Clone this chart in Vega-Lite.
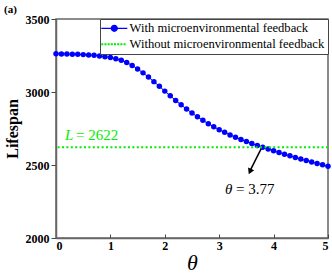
{
  "$schema": "https://vega.github.io/schema/vega-lite/v6.json",
  "autosize": "none",
  "width": 272,
  "height": 219,
  "padding": {"left": 56, "top": 19, "right": 4, "bottom": 40},
  "background": "white",
  "title": {"text": "(a)", "anchor": "start", "frame": "bounds", "font": "Times New Roman", "fontSize": 11, "fontWeight": "bold", "color": "black", "offset": -2},
  "config": {
    "view": {"stroke": "#666666", "strokeWidth": 1.5},
    "font": "Times New Roman",
    "axis": {"grid": false, "domainColor": "#666666", "domainWidth": 1.5, "tickColor": "#444444", "labelFont": "Times New Roman", "labelFontWeight": "bold", "labelFontSize": 12, "labelColor": "black", "titleColor": "black", "titleFont": "Times New Roman", "format": "d"},
    "legend": {"labelFont": "Times New Roman", "labelLimit": 300}
  },
  "data": {"values": [
      {"theta": 0.0, "L": 3262}, {"theta": 0.1, "L": 3261}, {"theta": 0.2, "L": 3260}, {"theta": 0.3, "L": 3259},
      {"theta": 0.4, "L": 3258}, {"theta": 0.5, "L": 3256}, {"theta": 0.6, "L": 3254}, {"theta": 0.7, "L": 3251},
      {"theta": 0.8, "L": 3247}, {"theta": 0.9, "L": 3242}, {"theta": 1.0, "L": 3236}, {"theta": 1.1, "L": 3228},
      {"theta": 1.2, "L": 3217}, {"theta": 1.3, "L": 3202}, {"theta": 1.4, "L": 3182}, {"theta": 1.5, "L": 3158},
      {"theta": 1.6, "L": 3131}, {"theta": 1.7, "L": 3102}, {"theta": 1.8, "L": 3071}, {"theta": 1.9, "L": 3039},
      {"theta": 2.0, "L": 3006}, {"theta": 2.1, "L": 2974}, {"theta": 2.2, "L": 2942}, {"theta": 2.3, "L": 2912},
      {"theta": 2.4, "L": 2883}, {"theta": 2.5, "L": 2856}, {"theta": 2.6, "L": 2830}, {"theta": 2.7, "L": 2806},
      {"theta": 2.8, "L": 2783}, {"theta": 2.9, "L": 2762}, {"theta": 3.0, "L": 2742}, {"theta": 3.1, "L": 2724},
      {"theta": 3.2, "L": 2706}, {"theta": 3.3, "L": 2690}, {"theta": 3.4, "L": 2675}, {"theta": 3.5, "L": 2661},
      {"theta": 3.6, "L": 2647}, {"theta": 3.7, "L": 2634}, {"theta": 3.8, "L": 2621}, {"theta": 3.9, "L": 2609},
      {"theta": 4.0, "L": 2597}, {"theta": 4.1, "L": 2585}, {"theta": 4.2, "L": 2574}, {"theta": 4.3, "L": 2563},
      {"theta": 4.4, "L": 2552}, {"theta": 4.5, "L": 2541}, {"theta": 4.6, "L": 2531}, {"theta": 4.7, "L": 2521},
      {"theta": 4.8, "L": 2511}, {"theta": 4.9, "L": 2501}, {"theta": 5.0, "L": 2491}
  ]},
  "layer": [
    {
      "mark": {"type": "line", "strokeWidth": 1, "clip": true},
      "encoding": {
        "x": {"field": "theta", "type": "quantitative", "scale": {"domain": [0, 5], "nice": false},
              "axis": {"values": [0, 1, 2, 3, 4, 5], "title": "θ", "titleFontSize": 22, "titleFontStyle": "italic", "titleFontWeight": "normal", "tickSize": -4, "labelPadding": 6, "titlePadding": 1}},
        "y": {"field": "L", "type": "quantitative", "scale": {"domain": [2000, 3500], "nice": false, "zero": false},
              "axis": {"values": [2000, 2500, 3000, 3500], "title": "Lifespan", "titleFontSize": 16, "titleFontWeight": "bold", "tickSize": 5, "labelPadding": 2, "titlePadding": 5}},
        "color": {"datum": "With microenvironmental feedback", "type": "nominal",
                  "scale": {"domain": ["With microenvironmental feedback", "Without microenvironmental feedback"], "range": ["#0000ff", "#00ee00"]},
                  "legend": {"title": null, "orient": "top-right", "offset": 0, "labelFont": "Times New Roman", "labelFontSize": 12.6, "labelColor": "black", "fillColor": "white", "strokeColor": "#444444", "padding": 3, "rowPadding": 3, "symbolSize": 144, "symbolOffset": 5, "labelOffset": 9, "labelLimit": 300,
                             "encode": {"symbols": {"update": {
                               "shape": {"signal": "datum.index === 0 ? 'M-2.17,0H2.17M-0.5,0a0.5,0.5 0 1,0 1,0a0.5,0.5 0 1,0 -1,0' : 'M-2.17,-0.17h0.34v0.34h-0.34zM-1.64,-0.17h0.34v0.34h-0.34zM-1.11,-0.17h0.34v0.34h-0.34zM-0.58,-0.17h0.34v0.34h-0.34zM-0.05,-0.17h0.34v0.34h-0.34zM0.48,-0.17h0.34v0.34h-0.34zM1.01,-0.17h0.34v0.34h-0.34zM1.54,-0.17h0.34v0.34h-0.34z'"},
                               "fill": {"signal": "datum.index === 0 ? '#0000ff' : '#00ee00'"},
                               "stroke": {"signal": "datum.index === 0 ? '#0000ff' : '#00ee00'"},
                               "strokeWidth": {"signal": "datum.index === 0 ? 1.2 : 0"},
                               "opacity": {"value": 1}
                             }}}}}
      }
    },
    {
      "mark": {"type": "point", "shape": "circle", "filled": true, "size": 30, "opacity": 1, "color": "#0000ff"},
      "encoding": {
        "x": {"field": "theta", "type": "quantitative"},
        "y": {"field": "L", "type": "quantitative"}
      }
    },
    {
      "data": {"values": [{}]},
      "mark": {"type": "rule", "strokeWidth": 2, "strokeDash": [2, 2.4]},
      "encoding": {
        "y": {"datum": 2622},
        "color": {"datum": "Without microenvironmental feedback", "type": "nominal"}
      }
    },
    {
      "data": {"values": [{}]},
      "mark": {"type": "rule", "color": "black", "strokeWidth": 1.5},
      "encoding": {
        "x": {"datum": 3.77}, "y": {"datum": 2610},
        "x2": {"datum": 3.58}, "y2": {"datum": 2470}
      }
    },
    {
      "data": {"values": [{}]},
      "mark": {"type": "point", "shape": "triangle-down", "filled": true, "color": "black", "size": 45, "angle": 24, "opacity": 1},
      "encoding": {"x": {"datum": 3.565}, "y": {"datum": 2455}}
    },
    {
      "data": {"values": [{}]},
      "mark": {"type": "text", "text": "θ", "font": "Times New Roman", "fontSize": 15, "fontStyle": "italic", "color": "black", "align": "left", "baseline": "middle", "dx": -24},
      "encoding": {"x": {"datum": 3.55}, "y": {"datum": 2336}}
    },
    {
      "data": {"values": [{}]},
      "mark": {"type": "text", "text": "= 3.77", "font": "Times New Roman", "fontSize": 15, "color": "black", "align": "left", "baseline": "middle", "dx": -13},
      "encoding": {"x": {"datum": 3.55}, "y": {"datum": 2336}}
    },
    {
      "data": {"values": [{}]},
      "mark": {"type": "text", "text": "L", "font": "Times New Roman", "fontSize": 15, "fontStyle": "italic", "color": "#00ee00", "align": "left", "baseline": "alphabetic", "dx": 9, "dy": -7},
      "encoding": {"x": {"datum": 0}, "y": {"datum": 2622}}
    },
    {
      "data": {"values": [{}]},
      "mark": {"type": "text", "text": "= 2622", "font": "Times New Roman", "fontSize": 15, "color": "#00ee00", "align": "left", "baseline": "alphabetic", "dx": 20, "dy": -7},
      "encoding": {"x": {"datum": 0}, "y": {"datum": 2622}}
    }
  ]
}
